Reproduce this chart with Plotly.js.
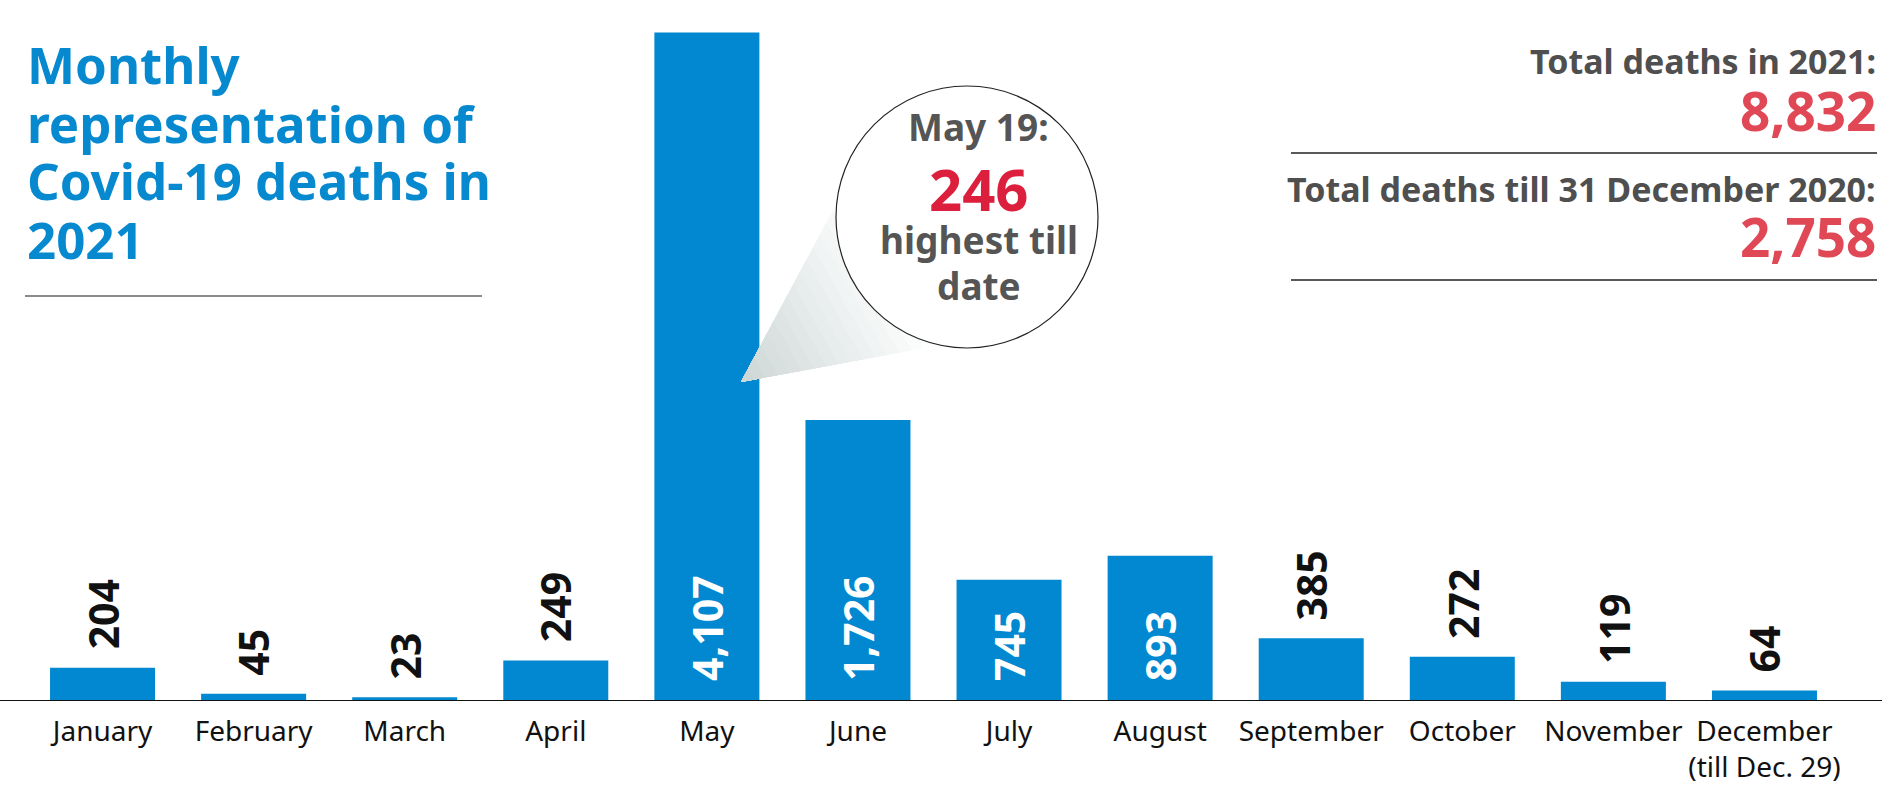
<!DOCTYPE html>
<html><head><meta charset="utf-8">
<script src="https://cdn.plot.ly/plotly-3.0.1.min.js"></script>
<style>html,body{margin:0;padding:0;background:#fff;overflow:hidden;} #chart{width:1901px;height:789px;}</style>
</head><body><div id="chart"></div>
<script>
// ---- data ----
const months = ['January','February','March','April','May','June','July','August','September','October','November','December'];
const tickLabels = ['January','February','March','April','May','June','July','August','September','October','November','December<br>(till Dec. 29)'];
const deaths = [204, 45, 23, 249, 4107, 1726, 745, 893, 385, 272, 119, 64];
const titleLines = ['Monthly', 'representation of', 'Covid-19 deaths in', '2021'];
const peakLines = ['May 19:', '246', 'highest till', 'date'];
const totalLabels = ['Total deaths in 2021:', 'Total deaths till 31 December 2020:'];
const totalValues = [8832, 2758];

// ---- layout helpers ----
const W = 1901, H = 789;
const M = {l: 27, r: 61, t: 32, b: 88};
const PW = W - M.l - M.r, PH = H - M.t - M.b;
const px = x => (x - M.l) / PW;
const py = y => (H - M.b - y) / PH;
const FONT = 'Noto Sans, Open Sans, sans-serif';
const BLUE = '#0288d1';
const GRAY = '#4f4f4f';
const fmt = v => v.toLocaleString('en-US');

const annotations = [];
// value labels
deaths.forEach((v, i) => {
  const inside = v > 600;
  annotations.push({
    x: months[i], xref: 'x', y: inside ? 0 : v, yref: 'y',
    text: fmt(v), textangle: -90, showarrow: false,
    xanchor: 'center', yanchor: 'bottom', yshift: inside ? 18 : 16,
    font: {family: FONT, size: 41, weight: 'bold', color: inside ? '#ffffff' : '#111111'}
  });
});
// title lines
const titleY = [64, 123, 180, 239];
titleLines.forEach((t, i) => annotations.push({
  xref: 'paper', yref: 'paper', x: px(25), y: py(titleY[i]), xanchor: 'left', yanchor: 'middle',
  text: t, showarrow: false, font: {family: FONT, size: 51, weight: 'bold', color: '#0789d0'}
}));
// totals
const totLabY = [61, 189], totValY = [110, 236];
totalLabels.forEach((t, i) => {
  annotations.push({xref: 'paper', yref: 'paper', x: px(1878), y: py(totLabY[i]), xanchor: 'right', yanchor: 'middle',
    text: t, showarrow: false, font: {family: FONT, size: 34, weight: 'bold', color: GRAY}});
  annotations.push({xref: 'paper', yref: 'paper', x: px(1878), y: py(totValY[i]), xanchor: 'right', yanchor: 'middle',
    text: fmt(totalValues[i]), showarrow: false, font: {family: FONT, size: 53, weight: 'bold', color: '#e04856'}});
});
// bubble text
const peakY = [126, 188, 240, 285];
const peakSize = [37, 58, 37, 37];
peakLines.forEach((t, i) => annotations.push({
  xref: 'paper', yref: 'paper', x: px(979), y: py(peakY[i]), xanchor: 'center', yanchor: 'middle',
  text: t, showarrow: false, font: {family: FONT, size: peakSize[i], weight: 'bold', color: i === 1 ? '#dc1f3d' : '#555555'}
}));

const shapes = [];
// callout wedge, stepped gradient
const T = [741, 382], A = [846, 186], B = [936, 346];
const N = 16;
for (let k = N; k >= 1; k--) {
  const f = k / N;
  const a = [T[0] + (A[0] - T[0]) * f, T[1] + (A[1] - T[1]) * f];
  const b = [T[0] + (B[0] - T[0]) * f, T[1] + (B[1] - T[1]) * f];
  const g = 1 - f;
  const c = [Math.round(253 - 50 * g), Math.round(254 - 42 * g), Math.round(254 - 42 * g)];
  shapes.push({type: 'path', xref: 'paper', yref: 'paper',
    path: `M ${px(T[0])} ${py(T[1])} L ${px(a[0])} ${py(a[1])} L ${px(b[0])} ${py(b[1])} Z`,
    fillcolor: `rgb(${c[0]},${c[1]},${c[2]})`, line: {width: 0}});
}
// circle
const C = [967, 217], R = 131;
shapes.push({type: 'circle', xref: 'paper', yref: 'paper',
  x0: px(C[0] - R), x1: px(C[0] + R), y0: py(C[1] + R), y1: py(C[1] - R),
  fillcolor: '#ffffff', line: {color: '#222222', width: 1.2}});
// rules
shapes.push({type: 'line', xref: 'paper', yref: 'paper', x0: px(25), x1: px(482), y0: py(296), y1: py(296),
  line: {color: '#8a8a8a', width: 2}});
[153, 280].forEach(y => shapes.push({type: 'line', xref: 'paper', yref: 'paper', x0: px(1291), x1: px(1877), y0: py(y), y1: py(y),
  line: {color: '#222222', width: 1.5}}));
// baseline
shapes.push({type: 'line', xref: 'paper', yref: 'y', x0: px(0), x1: px(1882), y0: 0, y1: 0,
  line: {color: '#111111', width: 2}});

const trace = {
  type: 'bar', x: months, y: deaths,
  marker: {color: BLUE, line: {width: 0}},
  hoverinfo: 'skip'
};

const layout = {
  width: W, height: H,
  margin: M,
  paper_bgcolor: '#ffffff', plot_bgcolor: '#ffffff',
  showlegend: false,
  bargap: 0.305,
  font: {family: FONT},
  xaxis: {
    type: 'category', range: [-0.5, 11.5],
    tickvals: months, ticktext: tickLabels, tickangle: 0,
    showline: false, showgrid: false, zeroline: false,
    ticks: 'outside', ticklen: 5, tickcolor: 'rgba(0,0,0,0)',
    tickfont: {family: FONT, size: 28, color: '#111111'}
  },
  yaxis: {range: [0, 4110], visible: false, showgrid: false, zeroline: false, fixedrange: true},
  annotations: annotations,
  shapes: shapes
};

Plotly.newPlot('chart', [trace], layout, {staticPlot: true, displayModeBar: false});
</script>
</body></html>
